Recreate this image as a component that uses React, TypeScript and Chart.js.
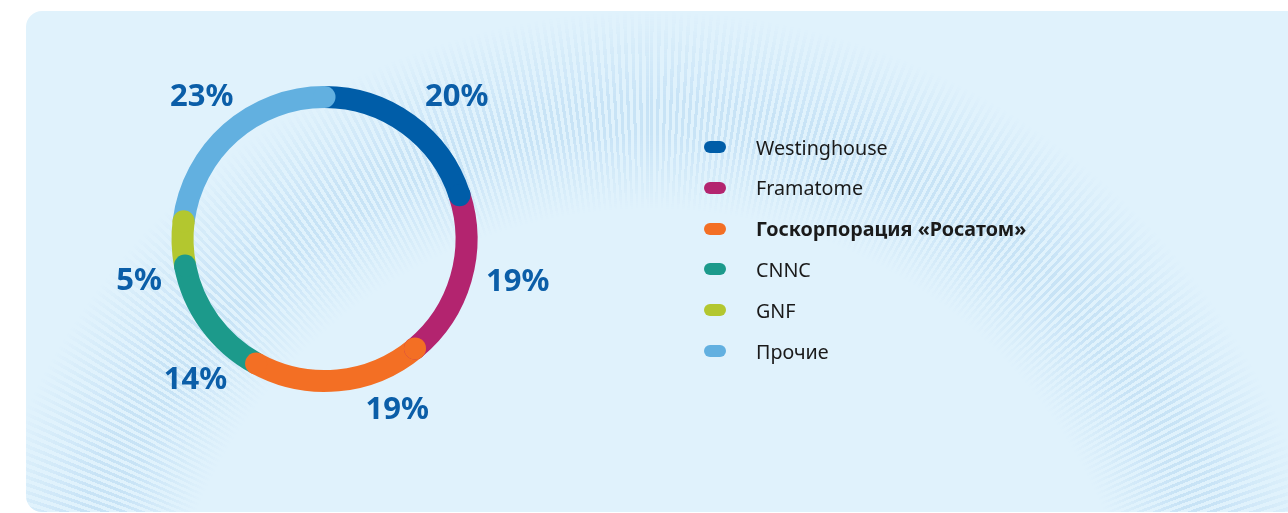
import React, { useEffect, useRef } from "react";
import { Chart, registerables } from "chart.js";

Chart.register(...registerables);

const companies = [
  "Westinghouse",
  "Framatome",
  "Госкорпорация «Росатом»",
  "CNNC",
  "GNF",
  "Прочие",
];
const shares = [20, 19, 19, 14, 5, 23];
const sliceColors = ["#005da8", "#b3246f", "#f36f24", "#1c9a8b", "#b3c72f", "#62b0e0"];
const highlighted = 2;

// label placement relative to slice middle: [angle shift in degrees, distance from centre in px]
const labelShifts = [
  [7, 194],
  [-3.7, 198],
  [-17.6, 186],
  [-11.5, 191],
  [-11, 190],
  [0.6, 188],
];

const capsPlugin = {
  id: "roundCaps",
  afterDatasetsDraw(chart: any) {
    const meta = chart.getDatasetMeta(0);
    const ctx = chart.ctx;
    ctx.save();
    meta.data.forEach((arc: any, i: number) => {
      const p = arc.getProps(["x", "y", "startAngle", "endAngle", "innerRadius", "outerRadius"], true);
      const r = (p.innerRadius + p.outerRadius) / 2;
      const w = (p.outerRadius - p.innerRadius) / 2;
      const angles = i === highlighted ? [p.startAngle, p.endAngle] : [p.endAngle];
      ctx.fillStyle = sliceColors[i];
      angles.forEach((a: number) => {
        ctx.beginPath();
        ctx.arc(p.x + r * Math.cos(a), p.y + r * Math.sin(a), w, 0, Math.PI * 2);
        ctx.fill();
      });
    });
    ctx.restore();
  },
};

const pctPlugin = {
  id: "pctLabels",
  afterDraw(chart: any) {
    const meta = chart.getDatasetMeta(0);
    const ctx = chart.ctx;
    ctx.save();
    ctx.font = "bold 31px 'Noto Sans'";
    ctx.fillStyle = "#0b5ea8";
    ctx.textAlign = "center";
    ctx.textBaseline = "middle";
    meta.data.forEach((arc: any, i: number) => {
      const p = arc.getProps(["x", "y", "startAngle", "endAngle"], true);
      const a = (p.startAngle + p.endAngle) / 2 + (labelShifts[i][0] * Math.PI) / 180;
      const d = labelShifts[i][1];
      ctx.fillText(shares[i] + "%", p.x + d * Math.cos(a), p.y + d * Math.sin(a));
    });
    ctx.restore();
  },
};

const stripeMask =
  "radial-gradient(circle at 624px 689px, transparent 490px, rgba(0,0,0,0.6) 565px, rgba(0,0,0,0.6) 600px, transparent 690px)";

export default function App() {
  const ref = useRef<HTMLCanvasElement | null>(null);

  useEffect(() => {
    document.body.style.margin = "0";
    const chart = new Chart(ref.current as HTMLCanvasElement, {
      type: "doughnut",
      data: {
        labels: companies,
        datasets: [
          {
            data: shares,
            backgroundColor: sliceColors,
            borderWidth: 0,
          },
        ],
      },
      options: {
        responsive: false,
        animation: false,
        cutout: "85.6%",
        layout: { padding: { left: 171.5, top: 86, right: 810.5, bottom: 121 } },
        plugins: {
          legend: { display: false },
          tooltip: { enabled: false },
        },
      },
      plugins: [capsPlugin, pctPlugin],
    });
    return () => chart.destroy();
  }, []);

  return (
    <div
      style={{
        position: "absolute",
        left: 0,
        top: 0,
        width: 1288,
        height: 513,
        overflow: "hidden",
        background: "#ffffff",
        fontFamily: "'Noto Sans', sans-serif",
      }}
    >
      <div
        style={{
          position: "absolute",
          left: 26,
          top: 11,
          width: 1300,
          height: 501,
          borderRadius: 16,
          background: "#e0f2fc",
          overflow: "hidden",
        }}
      >
        <div
          style={{
            position: "absolute",
            inset: 0,
            background:
              "repeating-conic-gradient(from 0deg at 624px 689px, rgba(172,210,240,0.75) 0deg 0.3deg, rgba(172,210,240,0) 0.3deg 0.62deg)",
            WebkitMaskImage: stripeMask,
            maskImage: stripeMask,
          }}
        />
      </div>
      <canvas ref={ref} width={1288} height={513} style={{ position: "absolute", left: 0, top: 0 }} />
      {companies.map((name, i) => (
        <div
          key={name}
          style={{
            position: "absolute",
            left: 704,
            top: 147 + i * 40.8 - 12,
            height: 24,
            display: "flex",
            alignItems: "center",
            whiteSpace: "nowrap",
          }}
        >
          <span
            style={{
              display: "inline-block",
              width: 22,
              height: 12,
              borderRadius: 6,
              background: sliceColors[i],
            }}
          />
          <span
            style={{
              marginLeft: 30,
              fontSize: 19.7,
              color: "#1a1a1a",
              fontWeight: i === highlighted ? 700 : 400,
            }}
          >
            {name}
          </span>
        </div>
      ))}
    </div>
  );
}
